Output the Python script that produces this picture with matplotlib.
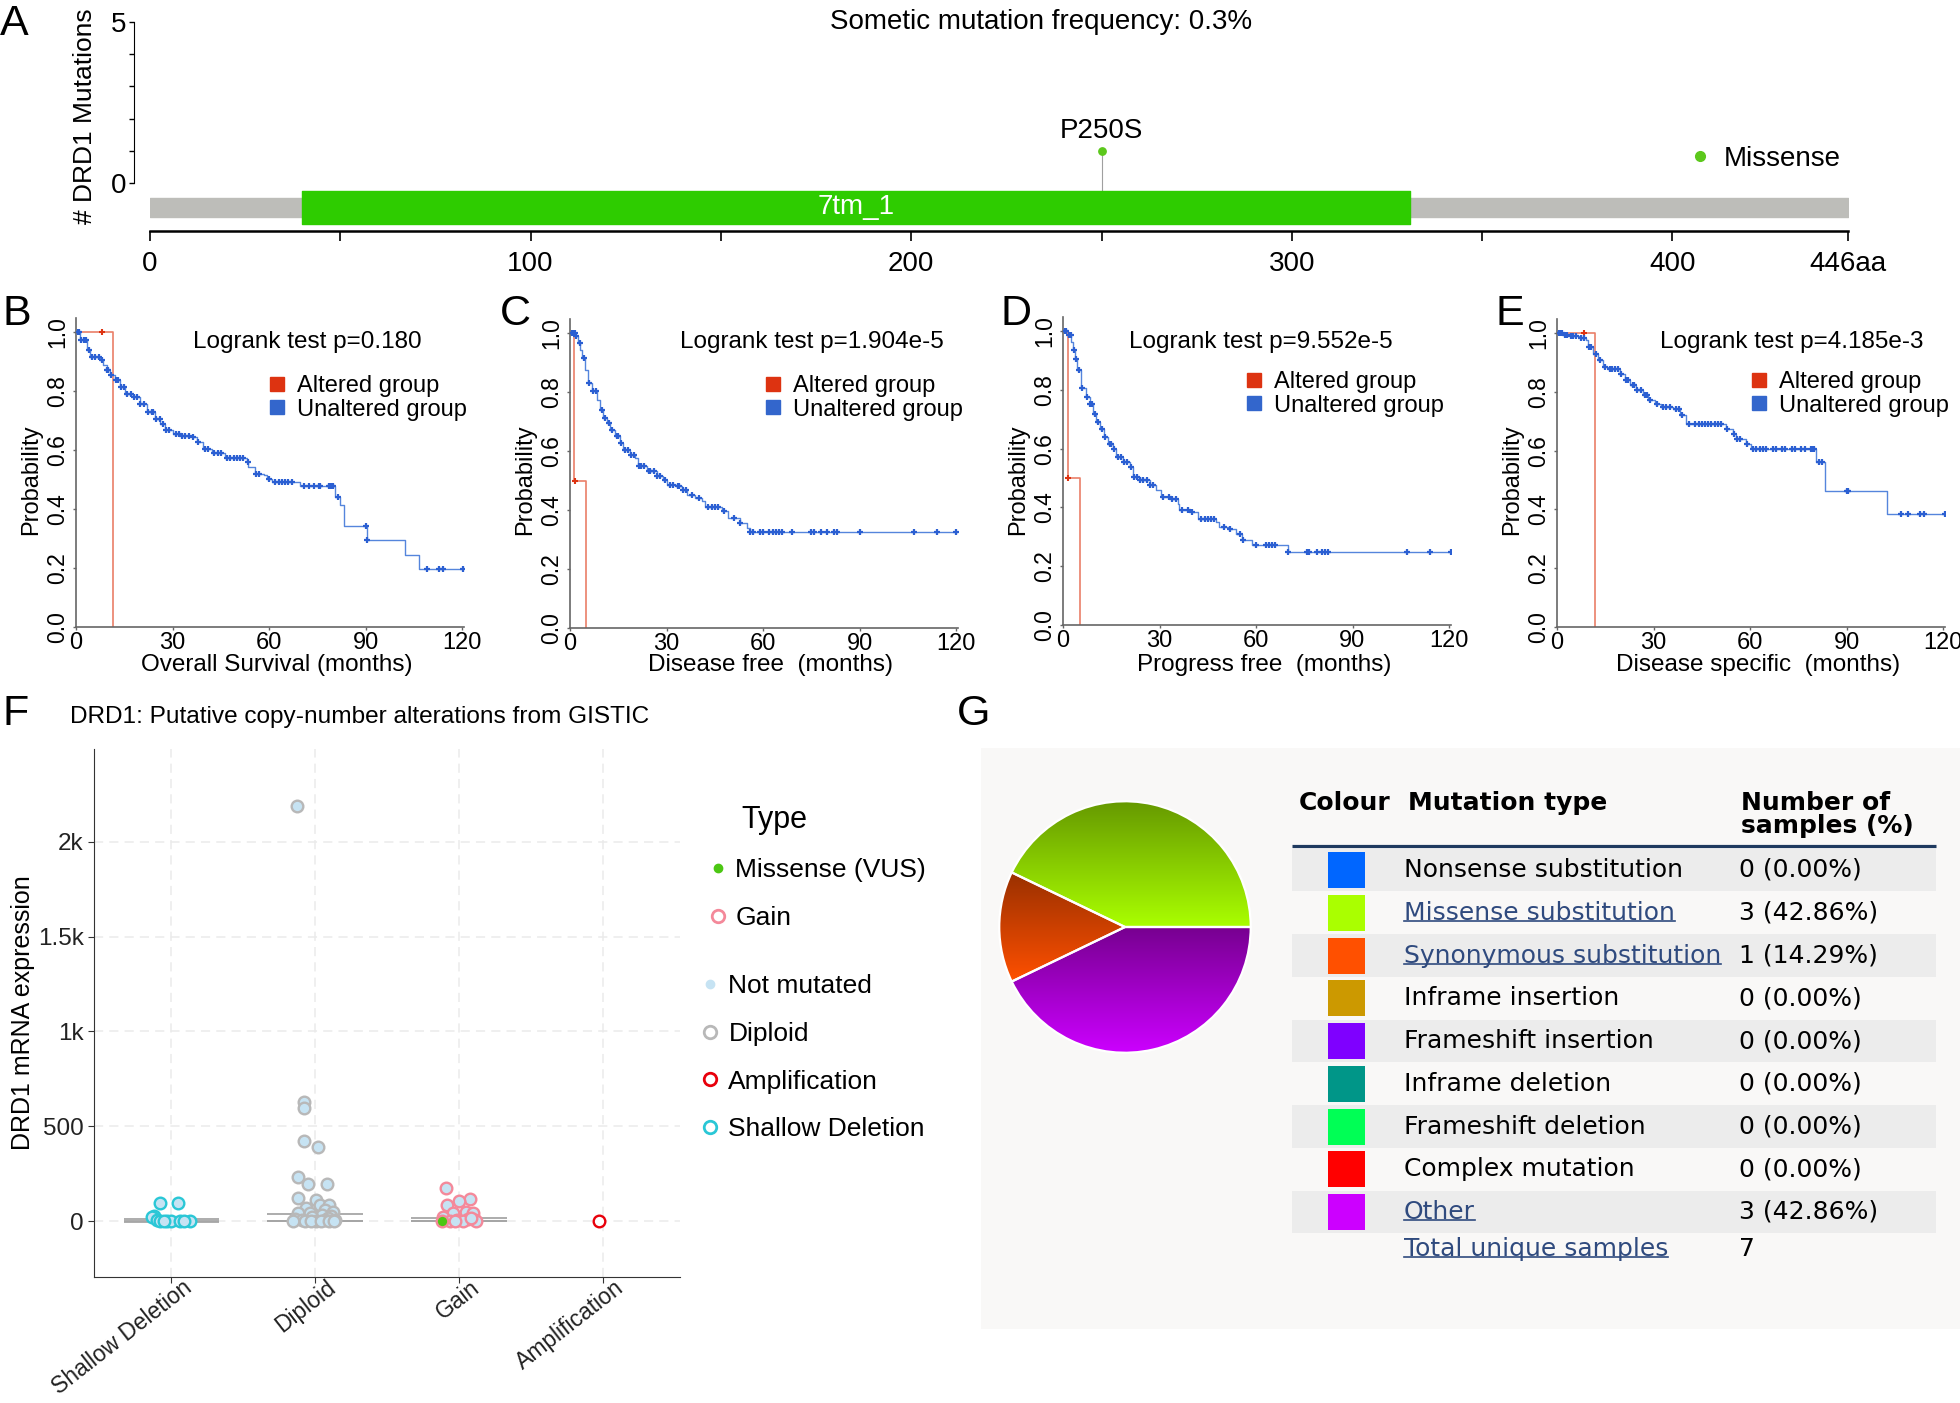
import numpy as np
import matplotlib
matplotlib.use('Agg')
import matplotlib.pyplot as plt
import matplotlib.transforms as mtrans
from matplotlib.lines import Line2D
from matplotlib.colors import LinearSegmentedColormap

W, H = 1960, 1403
plt.rcParams.update({'font.family': ['Liberation Sans', 'DejaVu Sans'], 'font.size': 16})

# ====================== data: A lollipop ======================
prot_len = 446
domain_name = '7tm_1'
domain_start, domain_end = 40, 331
mut_pos = [250]
mut_count = [1]
mut_label = ['P250S']
aa_ticks = [0, 50, 100, 150, 200, 250, 300, 350, 400, 446]
aa_ticklabels = ['0', '', '100', '', '200', '', '300', '', '400', '446aa']

# ====================== data: B-E Kaplan-Meier ======================
B_unalt_t = [0, 1.2, 3.3, 4.4, 7.5, 8.5, 9.5, 10.6, 12.1, 13.7, 15.2, 17.8, 19.9, 22, 24.6, 26.1, 27.7,
             30.3, 32.9, 36, 37.5, 39.6, 42.2, 46.4, 53.1, 53.6, 55.7, 58.3, 59.3, 60.9, 69.7, 80.6,
             82.1, 83.2, 90.4, 102.4, 106.5, 120.5]
B_unalt_s = [1.0, .972, .938, .915, .904, .887, .870, .853, .836, .814, .791, .780, .757, .729, .706, .689,
             .667, .655, .646, .644, .627, .605, .590, .573, .559, .542, .520, .516, .503, .492, .477, .441,
             .412, .342, .294, .243, .198, .198]
B_unalt_cens = [0.5, 1, 1.5, 2.5, 3, 4, 5, 6, 7, 8, 9.5, 10, 11, 12.5, 13, 14, 15, 16, 17, 18, 19, 20, 21,
                22.5, 23.5, 24, 25, 26, 27, 28, 29, 31, 32, 33, 34, 35, 36.5, 38, 40, 41, 43, 44, 45, 47,
                48, 49, 50, 51, 52, 53.5, 56, 57, 60, 62, 63, 64, 65, 66, 67, 71, 72.5, 74, 75.5, 76, 78.5,
                79, 79.5, 80, 81.5, 90, 90.5, 109, 113, 114, 120.2]
B_alt_t = [0, 11.6]
B_alt_s = [1.0, 0.0]
B_alt_cens = [8.0]

C_unalt_t = [0, 1.6, 2.6, 3.1, 3.6, 4.7, 5.7, 6.7, 8.3, 9.3, 10.4, 11.4, 12.4, 14, 15.5, 16.6, 18.6, 20.2,
             21.2, 23.8, 26.9, 29, 30, 33.1, 34.7, 36.3, 38.9, 40.9, 42, 47.1, 49.2, 52.8, 54.9, 55.9, 120.2]
C_unalt_s = [1.0, .989, .966, .944, .915, .876, .831, .802, .774, .740, .712, .695, .672, .650, .627, .605,
             .588, .576, .548, .531, .514, .503, .486, .480, .469, .452, .441, .429, .409, .395, .373, .356,
             .339, .324, .324]
C_unalt_cens = [0.5, 1, 1.5, 2, 3, 4.5, 6, 7, 8, 10, 11, 12, 13, 14.5, 15, 16, 17, 18, 19, 20, 21.5, 22, 23,
                24.5, 25, 26, 27, 28, 29.5, 31, 32, 33.5, 34, 35, 36, 38, 40, 43, 44, 45, 46, 48, 51, 53, 56,
                57, 59, 60, 62, 63, 64, 65, 66, 69, 75, 76, 78, 80, 82, 83, 90, 107, 114, 120]
C_alt_t = [0, 1.2, 5.0]
C_alt_s = [1.0, 0.5, 0.0]
C_alt_cens = [1.5]

D_unalt_t = [0, 1.55, 2.6, 3.1, 3.6, 4.3, 5.7, 7.2, 8.3, 9.3, 10.3, 11.4, 12.9, 14, 15.5, 16.5, 18.6, 20.7,
             21.7, 23.8, 26.9, 29, 30.5, 33.6, 35.7, 36.2, 39.8, 41.9, 47.6, 48.6, 51.2, 53.8, 55.8, 58.9,
             69.8, 120.5]
D_unalt_s = [1.0, .985, .963, .934, .906, .866, .807, .775, .753, .719, .691, .668, .640, .617, .600, .572,
             .555, .538, .504, .493, .476, .459, .436, .427, .413, .391, .385, .359, .351, .334, .325, .311,
             .289, .272, .247, .247]
D_unalt_cens = [0.5, 1, 2, 2.5, 3.5, 4, 5, 6, 7.5, 8.5, 9, 10, 11, 12, 13, 14.5, 15, 16, 17, 18, 19, 20, 21,
                22, 23, 24, 25, 26, 27, 28, 31, 33, 34, 35, 37, 39, 40, 43, 44, 45, 46, 47, 50, 52, 55, 56,
                60, 63, 64, 65, 66, 70, 76, 76.5, 79, 80.5, 81.5, 82.5, 107, 114, 120.5]
D_alt_t = [0, 1.55, 5.2]
D_alt_s = [1.0, 0.5, 0.0]
D_alt_cens = [1.7]

E_unalt_t = [0, 1.9, 3.9, 7, 8.9, 9.6, 11.2, 12.7, 14.3, 15.9, 19.5, 21, 22.6, 24.7, 26.7, 28.3, 30.4, 32.4,
             36, 38.1, 40.2, 52.6, 54.7, 55.7, 58.8, 60.4, 80.6, 83.4, 102.6, 120.5]
E_unalt_s = [1.0, .994, .989, .984, .977, .952, .930, .907, .885, .879, .862, .839, .822, .805, .788, .771,
             .760, .749, .743, .721, .692, .675, .658, .638, .624, .605, .562, .461, .383, .383]
E_unalt_cens = [0.5, 1, 1.5, 2.5, 3, 4.5, 5, 6, 7.5, 8.5, 10, 10.5, 12, 13.5, 15, 16.5, 17, 18, 19, 20, 21.5,
                22, 23.5, 24, 25, 26, 27.5, 28, 29, 31, 33, 34, 35, 37, 38, 39, 41, 43, 44, 45, 46, 47, 48,
                49, 50, 51, 53, 55, 56, 57, 59, 61, 62, 63, 64, 65, 67, 68, 70, 71, 73, 74, 76, 77, 79, 79.5,
                80, 81.5, 82.5, 90, 90.5, 107, 109, 113, 114, 120.5]
E_alt_t = [0, 11.9]
E_alt_s = [1.0, 0.0]
E_alt_cens = [8.4]

km_pvals = ['Logrank test p=0.180', 'Logrank test p=1.904e-5', 'Logrank test p=9.552e-5',
            'Logrank test p=4.185e-3']
km_xlabels = ['Overall Survival (months)', 'Disease free  (months)', 'Progress free  (months)',
              'Disease specific  (months)']
km_letters = ['B', 'C', 'D', 'E']
km_yticks = [0.0, 0.2, 0.4, 0.6, 0.8, 1.0]
km_xticks = [0, 30, 60, 90, 120]

# ====================== data: F copy-number ======================
cna_cats = ['Shallow Deletion', 'Diploid', 'Gain', 'Amplification']
sd_vals = [93, 93, 28, 20, 5, 0, 0, 0, 0, 0, 0, 2]
sd_jit = [-0.08, 0.05, -0.12, -0.13, -0.10, -0.08, -0.03, 0.00, 0.06, 0.13, 0.09, -0.05]
dip_vals = [2190, 628, 596, 422, 390, 230, 195, 195, 120, 110, 85, 85, 67, 58, 50, 40, 40, 30, 25, 20,
            15, 10, 5, 5, 5, 2, 0, 0, 0, 0, 0, 0]
dip_jit = [-0.125, -0.076, -0.076, -0.076, 0.02, -0.115, -0.046, 0.08, -0.115, 0.01, 0.035, 0.10, -0.06,
           0.07, 0.126, -0.12, -0.035, 0.05, 0.11, -0.02, 0.09, -0.14, -0.09, 0.07, 0.14, 0.01, -0.15,
           -0.07, -0.03, 0.04, 0.10, 0.13]
gain_vals = [172, 114, 105, 84, 49, 40, 40, 23, 9, 5, 5, 0, 0, 0, 2, 15]
gain_jit = [-0.09, 0.075, 0.0, -0.085, 0.05, -0.04, 0.10, -0.11, 0.06, -0.016, 0.11, -0.06, 0.03, 0.12,
            -0.03, 0.08]
gain_mis_vals = [0]
gain_mis_jit = [-0.12]
amp_vals = [2]
amp_jit = [-0.025]
box_q1 = [-3, 0, 0]
box_med = [0, 2, 2]
box_q3 = [9, 35, 15]
f_yticks = [0, 500, 1000, 1500, 2000]
f_yticklabels = ['0', '500', '1k', '1.5k', '2k']

# ====================== data: G mutation types ======================
mut_types = ['Nonsense substitution', 'Missense substitution', 'Synonymous substitution',
             'Inframe insertion', 'Frameshift insertion', 'Inframe deletion', 'Frameshift deletion',
             'Complex mutation', 'Other']
mut_counts = [0, 3, 1, 0, 0, 0, 0, 0, 3]
mut_pcts = [0.00, 42.86, 14.29, 0.00, 0.00, 0.00, 0.00, 0.00, 42.86]
mut_colors = ['#0066ff', '#aaff00', '#ff5000', '#cc9900', '#7f00ff', '#009688', '#00ff55', '#ff0000',
              '#cc00ff']
mut_linked = [False, True, True, False, False, False, False, False, True]
pie_grad = {'Missense substitution': ('#aaff00', '#669900'),
            'Synonymous substitution': ('#ff5000', '#993000'),
            'Other': ('#cc00ff', '#770090')}
total_samples = 7

# ====================== figure ======================
fig = plt.figure(figsize=(W / 100, H / 100), dpi=100)
fig.patch.set_facecolor('white')


def fx(px):
    return px / W


def fy(py):
    return 1 - py / H


def ax_px(l, t, r, b):
    return fig.add_axes([l / W, 1 - b / H, (r - l) / W, (b - t) / H])


def letter(px, py, s):
    fig.text(fx(px), fy(py), s, fontsize=31, ha='left', va='top')


# ---------- A ----------
axA = ax_px(150, 22, 1847.5, 231)
axA.set_xlim(0, prot_len)
axA.set_ylim(-1.49, 5)
axA.patch.set_alpha(0)
for s in ('top', 'right'):
    axA.spines[s].set_visible(False)
axA.spines['left'].set_position(('outward', 11.5))
axA.spines['left'].set_bounds(0, 5)
axA.spines['bottom'].set_bounds(0, prot_len)
axA.spines['bottom'].set_linewidth(1.8)
axA.set_xticks(aa_ticks)
axA.set_xticklabels(aa_ticklabels)
axA.set_yticks(range(6))
axA.set_yticklabels(['0', '', '', '', '', '5'])
axA.tick_params(axis='x', length=7, width=1.2, pad=7.5, labelsize=20)
axA.tick_params(axis='y', length=3.6, width=1, pad=2, labelsize=20)
axA.broken_barh([(0, prot_len)], (-1.06, 0.59), color='#bdbdb9', zorder=1)
axA.broken_barh([(domain_start, domain_end - domain_start)], (-1.27, 1.02), color='#2ecc00',
                zorder=2)
axA.text((domain_start + domain_end) / 2, -0.76, domain_name, color='white', ha='center',
         va='center', fontsize=20, zorder=3)
axA.vlines(mut_pos, -0.25, mut_count, color='#a0a0a0', lw=0.8, zorder=1)
axA.scatter(mut_pos, mut_count, s=28, color='#5cc81c', zorder=4)
for p, c, lab in zip(mut_pos, mut_count, mut_label):
    axA.annotate(lab, (p, c), xytext=(0, 14), textcoords='offset points', ha='center', va='center',
                 fontsize=20)
axA.legend(handles=[Line2D([], [], marker='o', ls='', color='#5cc81c', ms=7)], labels=['Missense'],
           loc='center left', bbox_to_anchor=(fx(1693), fy(159)), bbox_transform=fig.transFigure,
           frameon=False, borderpad=0, borderaxespad=0, handlelength=0.5, handletextpad=0.6,
           fontsize=20)
fig.text(fx(1041), fy(22), 'Sometic mutation frequency: 0.3%', ha='center', va='center', fontsize=20)
fig.text(fx(85), fy(116), '# DRD1 Mutations', rotation=90, ha='center', va='center', fontsize=19)
letter(0, 4, 'A')

# ---------- B-E ----------
km_data = [
    (B_unalt_t, B_unalt_s, B_unalt_cens, B_alt_t, B_alt_s, B_alt_cens),
    (C_unalt_t, C_unalt_s, C_unalt_cens, C_alt_t, C_alt_s, C_alt_cens),
    (D_unalt_t, D_unalt_s, D_unalt_cens, D_alt_t, D_alt_s, D_alt_cens),
    (E_unalt_t, E_unalt_s, E_unalt_cens, E_alt_t, E_alt_s, E_alt_cens),
]
km_left = [76, 570, 1063, 1557]
km_y1 = [332, 333, 331, 333]
km_y0 = [627, 628, 625, 627]
km_title_xy = [(307, 342), (812, 342), (1261, 342), (1792, 342)]
km_leg_xy = [(277, 384), (773, 384), (1254, 380), (1759, 380)]
km_letter_xy = [(2, 294), (500, 294), (1000, 294), (1495, 294)]
px_per_month = 386 / 120
RED, BLUE = '#dd3311', '#3366cc'


def step_at(t, s, q):
    idx = np.searchsorted(np.asarray(t), np.asarray(q), side='right') - 1
    return np.asarray(s)[idx]


for i, (tu, su, cu, ta, sa, ca) in enumerate(km_data):
    l, y1, y0 = km_left[i], km_y1[i], km_y0[i]
    top = y1 - 0.047 * (y0 - y1)
    ax = ax_px(l, top, l + px_per_month * 120.5, y0)
    ax.set_xlim(0, 120.5)
    ax.set_ylim(0, 1.047)
    ax.patch.set_alpha(0)
    for s in ('top', 'right'):
        ax.spines[s].set_visible(False)
    for s in ('left', 'bottom'):
        ax.spines[s].set_color('#666666')
        ax.spines[s].set_linewidth(1.2)
    ax.step(ta, sa, where='post', color='#ea7f68', lw=1.2, zorder=2)
    ax.plot(ca, step_at(ta, sa, ca), ls='', marker='+', ms=5, mew=1.5, color=RED, zorder=3)
    ax.step(tu, su, where='post', color='#5585dc', lw=1.0, zorder=2)
    ax.plot(cu, step_at(tu, su, cu), ls='', marker='+', ms=5, mew=1.6, color='#2b5fd2', zorder=3)
    ax.set_xticks(km_xticks)
    ax.set_yticks(km_yticks)
    ax.set_yticklabels([f'{v:.1f}' for v in km_yticks], rotation=90, va='center')
    ax.tick_params(axis='x', length=2.5, width=1, color='#666666', pad=1, labelsize=17)
    ax.tick_params(axis='y', length=2.5, width=1, color='#666666', pad=2.5, labelsize=16.5)
    ax.set_xlabel(km_xlabels[i], fontsize=17.5, va='center')
    ax.xaxis.set_label_coords(0.5 + 7 / 388, -(665 - y0) / (y0 - top))
    ax.set_ylabel('Probability', fontsize=17, va='center')
    ax.yaxis.set_label_coords(-45 / 388, (y0 - 480) / (y0 - top))
    tx, ty = km_title_xy[i]
    fig.text(fx(tx), fy(ty), km_pvals[i], ha='center', va='center', fontsize=17.5)
    lx, ly = km_leg_xy[i]
    ax.legend(handles=[Line2D([], [], marker='s', ls='', color=RED, ms=9.5),
                       Line2D([], [], marker='s', ls='', color=BLUE, ms=9.5)],
              labels=['Altered group', 'Unaltered group'], loc='upper left',
              bbox_to_anchor=(fx(lx - 7), fy(ly - 9)), bbox_transform=fig.transFigure,
              frameon=False, borderpad=0, borderaxespad=0, handlelength=0.6, handletextpad=0.55,
              labelspacing=0.07, fontsize=17)
    letter(*km_letter_xy[i], km_letters[i])

# ---------- F ----------
axF = ax_px(94, 749, 680, 1277)
axF.set_xlim(0.465, 4.535)
axF.set_ylim(-295, 2490)
for s in ('top', 'right'):
    axF.spines[s].set_visible(False)
for s in ('left', 'bottom'):
    axF.spines[s].set_color('#333333')
axF.set_axisbelow(True)
axF.grid(True, ls=(0, (6, 4)), color='#ebebeb', lw=1.1)
axF.set_xticks(range(1, 5))
axF.set_xticklabels([])
lab_tr = (mtrans.blended_transform_factory(axF.transData, axF.transAxes)
          + mtrans.ScaledTranslation(11 / 100, 1 / 100, fig.dpi_scale_trans))
for i, cat in enumerate(cna_cats):
    axF.text(i + 1, 0, cat, transform=lab_tr, rotation=38, rotation_mode='anchor', ha='right',
             va='top', fontsize=16.5, color='#222222')
axF.set_yticks(f_yticks)
axF.set_yticklabels(f_yticklabels)
axF.tick_params(length=4, color='#333333', labelsize=17.5, labelcolor='#222222')
box_pos = np.arange(1, len(box_q1) + 1)
for q in (box_q1, box_med, box_q3):
    axF.hlines(q, box_pos - 0.33, box_pos + 0.33, color='#a6a6a6', lw=1.3, zorder=2)
NOTMUT = '#c6e3f3'
point_groups = [
    (1, sd_vals, sd_jit, NOTMUT, '#2ac7d6'),
    (2, dip_vals, dip_jit, NOTMUT, '#b8b8b8'),
    (3, gain_vals, gain_jit, NOTMUT, '#f4899a'),
    (3, gain_mis_vals, gain_mis_jit, '#4cc713', '#f4899a'),
    (4, amp_vals, amp_jit, 'white', '#e8000b'),
]
for xpos, vals, jit, fc, ec in point_groups:
    axF.scatter(xpos + np.asarray(jit), vals, s=70, facecolor=fc, edgecolor=ec, lw=1.7, zorder=3)
fig.text(fx(70), fy(717), 'DRD1: Putative copy-number alterations from GISTIC', ha='left',
         va='center', fontsize=17.6)
fig.text(fx(23), fy(1013), 'DRD1 mRNA expression', rotation=90, ha='center', va='center',
         fontsize=18)
fig.text(fx(741), fy(820), 'Type', ha='left', va='center', fontsize=22)
leg1 = fig.legend(handles=[Line2D([], [], marker='o', ls='', mfc='#4cc713', mec='#4cc713', ms=6),
                           Line2D([], [], marker='o', ls='', mfc='white', mec='#f4899a', ms=9, mew=2)],
                  labels=['Missense (VUS)', 'Gain'], loc='upper left',
                  bbox_to_anchor=(fx(705), fy(858)), frameon=False, borderpad=0, borderaxespad=0,
                  handlelength=0.95, handletextpad=0.2, labelspacing=0.9, fontsize=19)
leg2 = fig.legend(handles=[Line2D([], [], marker='o', ls='', mfc=NOTMUT, mec=NOTMUT, ms=6),
                           Line2D([], [], marker='o', ls='', mfc='white', mec='#b8b8b8', ms=9, mew=2),
                           Line2D([], [], marker='o', ls='', mfc='white', mec='#e8000b', ms=9, mew=2),
                           Line2D([], [], marker='o', ls='', mfc='white', mec='#2ac7d6', ms=9, mew=2)],
                  labels=['Not mutated', 'Diploid', 'Amplification', 'Shallow Deletion'],
                  loc='upper left', bbox_to_anchor=(fx(697), fy(974)), frameon=False, borderpad=0,
                  borderaxespad=0, handlelength=0.95, handletextpad=0.24, labelspacing=0.9,
                  fontsize=19)
letter(3, 694, 'F')

# ---------- G ----------
GF = ['DejaVu Sans']
LINK = '#2f4a7e'
FS_G = 18
axG = ax_px(981, 748, 1960, 1329)
axG.set_xlim(981, 1960)
axG.set_ylim(1329, 748)
axG.set_facecolor('#f9f8f7')
axG.set_xticks([])
axG.set_yticks([])
for s in axG.spines.values():
    s.set_visible(False)
row_y = 870 + 42.75 * np.arange(len(mut_types))
axG.barh(row_y[::2], 644, height=42.75, left=1292, color='#ececec', lw=0)
axG.barh(row_y, 37, height=36, left=1328, color=mut_colors, lw=0)
axG.hlines(846, 1292, 1936, color='#1f3a5f', lw=2.3)
for txt, x, y in [('Colour', 1299, 803), ('Mutation type', 1408, 803), ('Number of', 1741, 803),
                  ('samples (%)', 1741, 826)]:
    axG.text(x, y, txt, fontsize=FS_G, fontweight='bold', family=GF, ha='left', va='center')
links = []
for y, name, c, p, lk in zip(row_y, mut_types, mut_counts, mut_pcts, mut_linked):
    t = axG.text(1404, y, name, fontsize=FS_G, family=GF, ha='left', va='center',
                 color=LINK if lk else 'black')
    if lk:
        links.append(t)
    axG.text(1739, y, f'{c} ({p:.2f}%)', fontsize=FS_G, family=GF, ha='left', va='center')
ty = row_y[-1] + 37
links.append(axG.text(1404, ty, 'Total unique samples', fontsize=FS_G, family=GF, ha='left',
                      va='center', color=LINK))
axG.text(1739, ty, str(total_samples), fontsize=FS_G, family=GF, ha='left', va='center')
letter(957, 694, 'G')

# pie
axP = ax_px(998, 800, 1252, 1054)
pie_names = [n for n, c in zip(mut_types, mut_counts) if c > 0]
pie_counts = [c for c in mut_counts if c > 0]
wedges, _ = axP.pie(pie_counts, startangle=0, counterclock=True,
                    wedgeprops=dict(fc='none', ec='white', lw=1.6))
grad = np.linspace(0, 1, 256).reshape(-1, 1)
for w, n in zip(wedges, pie_names):
    bb = w.get_path().get_extents()
    cmap = LinearSegmentedColormap.from_list(n, list(pie_grad[n]))
    im = axP.imshow(grad, extent=[bb.x0, bb.x1, bb.y0, bb.y1], origin='lower', cmap=cmap,
                    aspect='auto', zorder=0.5)
    im.set_clip_path(w)
axP.set_xlim(-1.01, 1.01)
axP.set_ylim(-1.01, 1.01)
axP.set_aspect('equal')
axP.axis('off')

# underline the link texts
fig.canvas.draw()
rend = fig.canvas.get_renderer()
inv = axG.transData.inverted()
for t in links:
    bb = t.get_window_extent(rend)
    (x0, y0), (x1, _) = inv.transform([(bb.x0, bb.y0), (bb.x1, bb.y0)])
    axG.plot([x0, x1], [y0 - 4, y0 - 4], color=LINK, lw=1.2)

fig.savefig('out.png', dpi=100)
